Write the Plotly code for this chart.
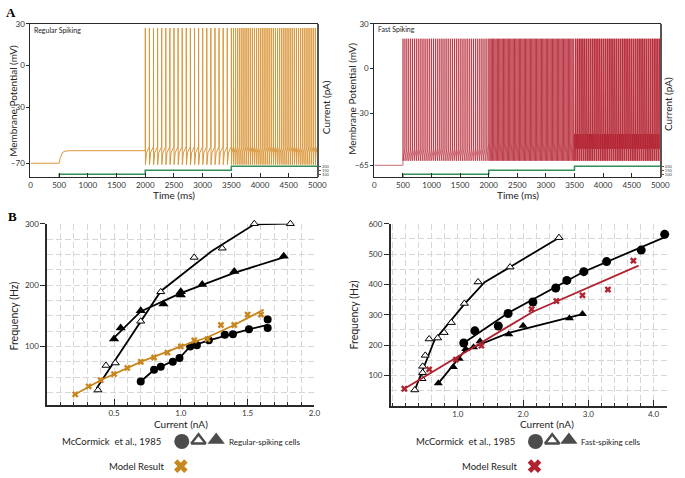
import plotly.graph_objects as go

W, H = 685, 478
FONT = "Lato"

# ---------------- Panel A data ----------------
step_times = [0, 500, 2000, 3500, 5000]
step_current_pA = [0, 100, 150, 200, 200]

# Regular spiking: subthreshold part before spiking
rs_pre_t = [0, 500, 515, 535, 560, 600, 680, 2000]
rs_pre_v = [-70, -70, -66.5, -63.8, -62.2, -61.4, -61, -61]
rs_seg_start = [2000, 3500]
rs_seg_end = [3500, 5000]
rs_seg_count = [21, 41]
rs_seg_thresh = [-58, -58]
rs_seg_notch = [-62.5, -62.5]
rs_peak, rs_trough = 27, -71

# Fast spiking
fs_pre_t = [0, 500]
fs_pre_v = [-65, -65]
fs_seg_start = [500, 2000, 3500]
fs_seg_end = [2000, 3500, 5000]
fs_seg_count = [45, 70, 120]
fs_seg_thresh = [-54, -50, -44]
fs_seg_notch = [-59, -57, -54]
fs_peak, fs_trough = 20, -62

# ---------------- Panel B data ----------------
rs_circ_x = [0.70, 0.80, 0.85, 0.94, 0.99, 1.07, 1.12, 1.21, 1.33, 1.39, 1.51, 1.65, 1.65]
rs_circ_y = [43, 62, 67, 75, 81, 100, 102, 110, 119, 120, 128, 144, 130]
rs_circ_fit_x = [0.70, 0.80, 0.99, 1.07, 1.21, 1.51, 1.65]
rs_circ_fit_y = [43, 62, 81, 100, 110, 128, 135]

rs_otri_x = [0.38, 0.44, 0.51, 0.70, 0.85, 1.10, 1.31, 1.55, 1.82]
rs_otri_y = [29, 69, 73, 141, 189, 245, 260, 300, 300]
rs_otri_fit_x = [0.37, 0.85, 1.23, 1.55, 1.82]
rs_otri_fit_y = [32, 190, 255, 299, 300]

rs_ftri_x = [0.50, 0.55, 0.70, 0.87, 1.00, 1.00, 1.16, 1.40, 1.77]
rs_ftri_y = [112, 130, 158, 169, 189, 184, 201, 222, 247]
rs_ftri_fit_x = [0.49, 0.70, 1.00, 1.40, 1.77]
rs_ftri_fit_y = [112, 157, 187, 220, 245]

rs_model_x = [0.21, 0.31, 0.40, 0.50, 0.60, 0.70, 0.80, 0.90, 1.00, 1.10, 1.20, 1.30, 1.40, 1.50, 1.60]
rs_model_y = [22, 35, 45, 55, 65, 75, 82, 90, 100, 110, 112, 135, 135, 152, 152]
rs_model_fit_x = [0.21, 0.40, 0.70, 1.00, 1.20, 1.40, 1.62]
rs_model_fit_y = [22, 45, 75, 100, 115, 135, 160]

fs_otri_x = [0.34, 0.45, 0.46, 0.46, 0.50, 0.56, 0.69, 0.79, 0.90, 1.10, 1.31, 1.80, 2.55]
fs_otri_y = [52, 89, 109, 130, 166, 220, 223, 241, 274, 337, 408, 457, 554]
fs_otri_fit_x = [0.34, 0.64, 1.10, 1.41, 1.80, 2.55]
fs_otri_fit_y = [52, 215, 335, 407, 457, 554]

fs_circ_x = [1.09, 1.26, 1.62, 1.77, 2.15, 2.50, 2.67, 2.93, 3.28, 3.81, 4.17]
fs_circ_y = [207, 247, 263, 304, 342, 388, 413, 442, 475, 513, 565]
fs_circ_fit_x = [1.09, 1.77, 2.92, 4.22]
fs_circ_fit_y = [207, 306, 441, 560]

fs_ftri_x = [0.70, 0.93, 1.02, 1.12, 1.24, 1.34, 1.78, 2.00, 2.71, 2.91]
fs_ftri_y = [74, 128, 155, 187, 193, 213, 236, 264, 288, 302]
fs_ftri_fit_x = [0.70, 1.11, 1.78, 2.91]
fs_ftri_fit_y = [74, 182, 240, 302]

fs_model_x = [0.18, 0.56, 0.97, 1.36, 2.13, 2.51, 2.91, 3.30, 3.69]
fs_model_y = [56, 120, 152, 198, 318, 345, 364, 383, 478]
fs_model_fit_x = [0.18, 0.97, 2.15, 3.77]
fs_model_fit_y = [56, 158, 310, 462]

# ---------------- colours ----------------
RS_TRACE = "#d9963a"
FS_TRACE = "#b01828"
GREEN = "#2f8f55"
ORANGE = "#c8861e"
RED = "#b0232f"
AX = "#2a2a2a"


def spike_train(pre_t, pre_v, starts, ends, counts, threshs, notches, peak, trough):
    t = list(pre_t)
    v = list(pre_v)
    for s, e, n, th, no in zip(starts, ends, counts, threshs, notches):
        T = (e - s) / n
        for k in range(n):
            t0 = s + k * T
            t += [t0, t0 + 1.0, t0 + 3.0, t0 + 0.3 * T]
            v += [th, peak, trough, no]
    t.append(ends[-1])
    v.append(threshs[-1])
    return t, v


rs_t, rs_v = spike_train(rs_pre_t, rs_pre_v, rs_seg_start, rs_seg_end, rs_seg_count,
                         rs_seg_thresh, rs_seg_notch, rs_peak, rs_trough)
fs_t, fs_v = spike_train(fs_pre_t, fs_pre_v, fs_seg_start, fs_seg_end, fs_seg_count,
                         fs_seg_thresh, fs_seg_notch, fs_peak, fs_trough)

fig = go.Figure()

# Panel A traces
fig.add_trace(go.Scatter(x=rs_t, y=rs_v, mode="lines", line=dict(color=RS_TRACE, width=1),
                         xaxis="x", yaxis="y", showlegend=False))
fig.add_trace(go.Scatter(x=step_times, y=step_current_pA, mode="lines", line=dict(color=GREEN, width=1.5, shape="hv"),
                         xaxis="x", yaxis="y2", showlegend=False))
fig.add_trace(go.Scatter(x=fs_t, y=fs_v, mode="lines", line=dict(color=FS_TRACE, width=0.65),
                         xaxis="x3", yaxis="y3", showlegend=False))
fig.add_trace(go.Scatter(x=step_times, y=step_current_pA, mode="lines", line=dict(color=GREEN, width=1.5, shape="hv"),
                         xaxis="x3", yaxis="y4", showlegend=False))


def add_series(xa, ya, fx, fy, mx, my, symbol, size, fill, lcol, lw_marker, lw=1.8):
    fig.add_trace(go.Scatter(x=fx, y=fy, mode="lines", line=dict(color=lcol, width=lw),
                             xaxis=xa, yaxis=ya, showlegend=False))
    fig.add_trace(go.Scatter(x=mx, y=my, mode="markers",
                             marker=dict(symbol=symbol, size=size, color=fill,
                                         line=dict(color=lcol, width=lw_marker)),
                             xaxis=xa, yaxis=ya, showlegend=False, cliponaxis=False))


# Panel B left
add_series("x5", "y5", rs_otri_fit_x, rs_otri_fit_y, rs_otri_x, rs_otri_y, "triangle-up", 7, "white", "black", 1)
add_series("x5", "y5", rs_ftri_fit_x, rs_ftri_fit_y, rs_ftri_x, rs_ftri_y, "triangle-up", 9, "black", "black", 0)
add_series("x5", "y5", rs_circ_fit_x, rs_circ_fit_y, rs_circ_x, rs_circ_y, "circle", 8, "black", "black", 0)
add_series("x5", "y5", rs_model_fit_x, rs_model_fit_y, rs_model_x, rs_model_y, "x", 6, ORANGE, ORANGE, 0)

# Panel B right
add_series("x6", "y6", fs_otri_fit_x, fs_otri_fit_y, fs_otri_x, fs_otri_y, "triangle-up", 7, "white", "black", 1)
add_series("x6", "y6", fs_ftri_fit_x, fs_ftri_fit_y, fs_ftri_x, fs_ftri_y, "triangle-up", 8, "black", "black", 0)
add_series("x6", "y6", fs_circ_fit_x, fs_circ_fit_y, fs_circ_x, fs_circ_y, "circle", 9, "black", "black", 0)
add_series("x6", "y6", fs_model_fit_x, fs_model_fit_y, fs_model_x, fs_model_y, "x", 6, RED, RED, 0)

# Legend glyphs (figure-pixel overlay axes)
leg_sym = ["circle", "triangle-up", "triangle-up"]
leg_fill = ["black", "white", "black"]
leg_lw = [0, 2.4, 0]
leg_size = [15, 12.5, 15]
leg_x_left = [183, 200, 218]
leg_x_right = [543, 560, 577]
for xs in (leg_x_left, leg_x_right):
    fig.add_trace(go.Scatter(x=xs, y=[441, 440, 439.5], mode="markers",
                             marker=dict(symbol=leg_sym, size=leg_size, color=leg_fill,
                                         line=dict(color="black", width=leg_lw)),
                             xaxis="x7", yaxis="y7", showlegend=False, cliponaxis=False))
fig.add_trace(go.Scatter(x=[182], y=[466], mode="markers",
                         marker=dict(symbol="x", size=12, color=ORANGE, line=dict(width=0)),
                         xaxis="x7", yaxis="y7", showlegend=False, cliponaxis=False))
fig.add_trace(go.Scatter(x=[542], y=[466], mode="markers",
                         marker=dict(symbol="x", size=12, color=RED, line=dict(width=0)),
                         xaxis="x7", yaxis="y7", showlegend=False, cliponaxis=False))

tickf = dict(family=FONT, size=8, color="#333")


def top_x(dom, anchor):
    return dict(domain=dom, anchor=anchor, range=[0, 5000], tickvals=list(range(0, 5001, 500)),
                ticks="inside", ticklen=4, tickcolor=AX, showline=True, linecolor=AX, linewidth=1.2,
                mirror=True, showgrid=False, zeroline=False, tickfont=tickf)


def top_y(dom, anchor, rng, tv):
    return dict(domain=dom, anchor=anchor, range=rng, tickvals=tv, ticks="outside", ticklen=3,
                tickcolor=AX, showline=True, linecolor=AX, linewidth=1.2, mirror=True,
                showgrid=False, zeroline=False, tickfont=tickf)


def cur_y(overlay, anchor):
    return dict(overlaying=overlay, anchor=anchor, side="right", range=[62, 2000],
                tickvals=[100, 150, 200], ticks="outside", ticklen=2, tickcolor="#555",
                showline=True, linecolor="#555", linewidth=1.6, showgrid=False, zeroline=False,
                tickfont=dict(family=FONT, size=4, color="#444"))


def b_x(dom, anchor, rng, tv, tt, mdt):
    return dict(domain=dom, anchor=anchor, range=rng, tickvals=tv, ticktext=tt,
                ticks="inside", ticklen=6, tickcolor=AX, showline=True, linecolor=AX, linewidth=1.5,
                showgrid=True, gridcolor="#d6d6d6", gridwidth=1, griddash="6px,3px", zeroline=False,
                minor=dict(dtick=mdt, tick0=0, ticks="inside", ticklen=3, tickcolor=AX,
                           showgrid=True, gridcolor="#d6d6d6", gridwidth=1, griddash="6px,3px"),
                tickfont=tickf)


def b_y(dom, anchor, rng, tv, mdt):
    return dict(domain=dom, anchor=anchor, range=rng, tickvals=tv, ticks="outside", ticklen=5,
                tickcolor=AX, showline=True, linecolor=AX, linewidth=1.5,
                showgrid=True, gridcolor="#d6d6d6", gridwidth=1, griddash="6px,3px", zeroline=False,
                minor=dict(dtick=mdt, tick0=0, showgrid=True, gridcolor="#d6d6d6", gridwidth=1,
                           griddash="6px,3px"),
                tickfont=tickf)


top_dom_y = [1 - 174 / H, 1 - 19 / H]
fig.update_layout(
    width=W, height=H, margin=dict(l=0, r=0, t=0, b=0),
    paper_bgcolor="white", plot_bgcolor="rgba(0,0,0,0)",
    font=dict(family=FONT, color="#222"),
    xaxis=top_x([29 / W, 321 / W], "y"),
    yaxis=top_y(top_dom_y, "x", [-80, 30], [30, 0, -30, -70]),
    yaxis2=cur_y("y", "x"),
    xaxis3=top_x([379 / W, 670 / W], "y3"),
    yaxis3=top_y(top_dom_y, "x3", [-73, 30], [30, 0, -30, -65]),
    yaxis4=cur_y("y3", "x3"),
    xaxis5=b_x([46 / W, 318 / W], "y5", [0, 2.0], [0.5, 1.0, 1.5, 2.0], ["0.5", "1.0", "1.5", "2.0"], 0.1),
    yaxis5=b_y([1 - 404 / H, 1 - 221 / H], "x5", [5, 300], [100, 200, 300], 25),
    xaxis6=b_x([395.6 / W, 676.5 / W], "y6", [-0.03, 4.2], [1, 2, 3, 4], ["1.0", "2.0", "3.0", "4.0"], 0.2),
    yaxis6=b_y([1 - 405 / H, 1 - 221 / H], "x6", [0, 600], [100, 200, 300, 400, 500, 600], 50),
    xaxis7=dict(domain=[0, 1], anchor="y7", range=[0, W], visible=False),
    yaxis7=dict(domain=[0, 1], anchor="x7", range=[H, 0], visible=False),
)

ann = []


def txt(x, y, s, size=10, angle=0, xanchor="center", **kw):
    ann.append(dict(x=x / W, y=1 - y / H, xref="paper", yref="paper", text=s, showarrow=False,
                    font=dict(family=kw.get("family", FONT), size=size, color=kw.get("color", "#222")),
                    textangle=angle, xanchor=xanchor, yanchor="middle"))


txt(9, 8, "<b>A</b>", 13, family="Liberation Serif", color="black")
txt(11, 214, "<b>B</b>", 13, family="Liberation Serif", color="black")
txt(11, 97, "Membrane Potential (mV)", 10, -90)
txt(356, 95, "Membrane Potential (mV)", 10, -90)
txt(330, 103, "Current (pA)", 10, -90)
txt(678, 100, "Current (pA)", 10, -90)
txt(175, 192, "Time (ms)", 10)
txt(525, 192, "Time (ms)", 10)
txt(31, 25, "Regular Spiking", 7, xanchor="left")
txt(381, 24, "Fast Spiking", 7, xanchor="left")
txt(12, 314, "Frequency (Hz)", 10.5, -90)
txt(358, 313, "Frequency (Hz)", 10.5, -90)
txt(182, 423, "Current (nA)", 10)
txt(555, 423, "Current (nA)", 10)
txt(164, 441, "McCormick  et al., 1985", 9.5, xanchor="right")
txt(229, 442, "Regular-spiking cells", 8, xanchor="left")
txt(167, 466, "Model Result", 9.5, xanchor="right")
txt(524, 441, "McCormick  et al., 1985", 9.5, xanchor="right")
txt(587, 442, "Fast-spiking cells", 8, xanchor="left")
txt(526, 466, "Model Result", 9.5, xanchor="right")
fig.update_layout(annotations=ann)

fig.write_html("out.html", config={"displayModeBar": False},
               post_script="document.body.style.margin='0px';")
